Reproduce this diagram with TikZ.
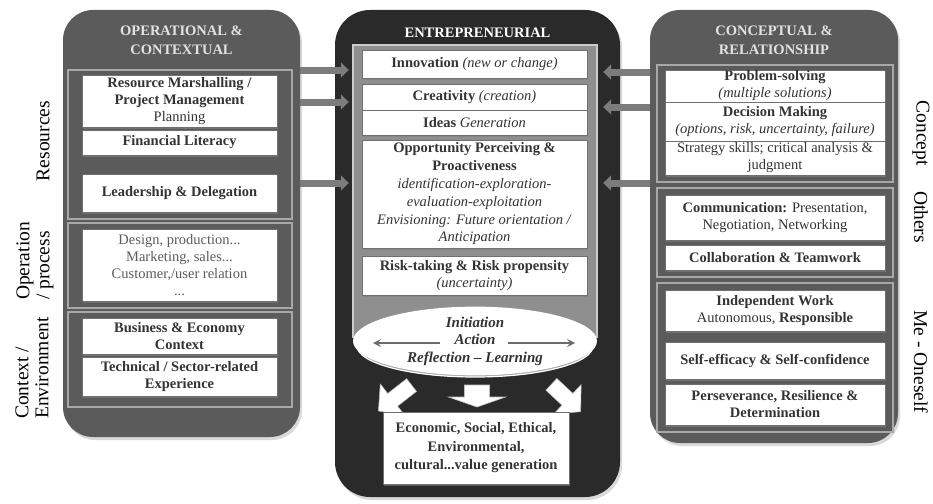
\documentclass[tikz,border=0pt]{standalone}
\usepackage{fontspec}
\setmainfont{Liberation Serif}
\usetikzlibrary{arrows.meta,shapes.geometric,shadows,positioning}
\definecolor{panelgray}{HTML}{5B5B5B}
\definecolor{darkpanel}{HTML}{2A2A2A}
\definecolor{framegray}{HTML}{A8A8A8}
\definecolor{innergray}{HTML}{8F8F8F}
\definecolor{textgray}{HTML}{333333}
\definecolor{boxline}{HTML}{707070}
\definecolor{linkgray}{HTML}{7C7C7C}
\definecolor{headgray}{HTML}{E2E2E2}
\tikzset{>=stealth,
  panel/.style={rounded corners=30pt, fill=panelgray, drop shadow={opacity=0.3,shadow xshift=2pt,shadow yshift=-3pt}},
  group/.style={draw=framegray, line width=1.6pt, fill=panelgray},
  item/.style={draw=boxline, fill=white, line width=0.8pt, align=center, inner sep=0.5pt, text=textgray,
    font=\fontsize{14.5}{17}\selectfont, drop shadow={opacity=0.6,shadow xshift=0.8pt,shadow yshift=-1.8pt}},
  head/.style={font=\bfseries\fontsize{14.5}{19}\selectfont, align=center, text=headgray},
  side/.style={font=\fontsize{19.5}{20}\selectfont, align=left},
  link/.style={draw=linkgray, line width=7pt, -{Triangle[length=8pt,width=15pt]}},
  blockarrow/.style={fill=white, draw=gray!50, line width=0.6pt}
}
\begin{document}
\begin{tikzpicture}[x=1pt,y=-1pt]
\useasboundingbox (0,0) rectangle (933,503);
\node[panel, minimum width=237, minimum height=427] (opc) at (181.5,223.5) {};
\node[panel, fill=darkpanel, rounded corners=35pt, minimum width=285, minimum height=487] (ent) at (477.5,253.5) {};
\node[panel, minimum width=248, minimum height=433] (cr) at (774,226.5) {};
\node[head] (opch) at (181.5,40) {OPERATIONAL \&\\CONTEXTUAL};
\node[head, text=white] (enth) at (477.5,33) {ENTREPRENEURIAL};
\node[head] (crh) at (774,40) {CONCEPTUAL \&\\RELATIONSHIP};
\draw[link, shorten >=-14pt] (opc.east |- 0,70) -- (ent.west |- 0,70);
\draw[link, shorten >=-14pt] (opc.east |- 0,102) -- (ent.west |- 0,102);
\draw[link, shorten >=-14pt] (opc.east |- 0,183) -- (ent.west |- 0,183);
\draw[link, shorten >=-17pt] (cr.west |- 0,72) -- (ent.east |- 0,72);
\draw[link, shorten >=-17pt] (cr.west |- 0,107) -- (ent.east |- 0,107);
\draw[link, shorten >=-17pt] (cr.west |- 0,183) -- (ent.east |- 0,183);
\node[group, minimum width=224, minimum height=149] (res) at (180,144.5) {};
\node[group, minimum width=224, minimum height=85] (opr) at (180,265.5) {};
\node[group, minimum width=224, minimum height=95] (ctx) at (180,359.5) {};
\node[item, minimum width=195, minimum height=52] (rm) at (179.5,101) {\textbf{Resource Marshalling /}\\\textbf{Project Management}\\Planning};
\node[item, minimum width=195, minimum height=25] (fl) at (179.5,142.5) {\textbf{Financial Literacy}};
\node[item, minimum width=195, minimum height=38] (ld) at (179.5,193) {\textbf{Leadership \& Delegation}};
\node[item, minimum width=195, minimum height=72, text=textgray!80] (dp) at (179.5,265) {Design, production...\\Marketing, sales...\\Customer,/user relation\\...};
\node[item, minimum width=195, minimum height=36] (be) at (179.5,336) {\textbf{Business \& Economy}\\\textbf{Context}};
\node[item, minimum width=195, minimum height=39] (ts) at (179.5,376.5) {\textbf{Technical / Sector-related}\\\textbf{Experience}};
\node[side, rotate=90] (lres) at (43,141) {Resources};
\node[side, rotate=90] (lopr) at (35,261) {Operation\\/ process};
\node[side, rotate=90] (lctx) at (32,368) {Context /\\Environment};
\node[draw=framegray!60!white, line width=1.6pt, fill=innergray, minimum width=244, minimum height=292] (frm) at (475,191) {};
\node[item, minimum width=225, minimum height=28] (inn) at (474.5,64) {\textbf{Innovation} \textit{(new or change)}};
\node[item, minimum width=225, minimum height=26] (cre) at (474.5,97) {\textbf{Creativity} \textit{(creation)}};
\node[item, minimum width=225, minimum height=25] (ide) at (474.5,122.5) {\textbf{Ideas} \textit{Generation}};
\node[item, minimum width=225, minimum height=108, font=\fontsize{14.5}{17.8}\selectfont] (opp) at (474.5,194) {\textbf{Opportunity Perceiving \&}\\\textbf{Proactiveness}\\\textit{identification-exploration-}\\\textit{evaluation-exploitation}\\\textit{Envisioning: Future orientation /}\\\textit{Anticipation}};
\node[item, minimum width=225, minimum height=39] (risk) at (474.5,275.5) {\textbf{Risk-taking \& Risk propensity}\\\textit{(uncertainty)}};
\node[ellipse, fill=gray!70, draw=white, line width=1.2pt, minimum width=236, minimum height=62] (rim) at (475,346) {};
\node[ellipse, fill=white, minimum width=244, minimum height=66, inner sep=0pt, text=textgray, align=center, font=\bfseries\itshape\fontsize{15}{17.5}\selectfont] (cyc) at (475,341) {Initiation\\Action\\Reflection -- Learning};
\draw[->, draw=gray!85!black, line width=2.4pt] ([xshift=-35pt,yshift=-2pt]cyc.center) -- ([xshift=-102pt,yshift=-2pt]cyc.center);
\draw[->, draw=gray!85!black, line width=2.4pt] ([xshift=33pt,yshift=-2pt]cyc.center) -- ([xshift=100pt,yshift=-2pt]cyc.center);
\draw[blockarrow, shift={(395,398)}, rotate=-142] (-21,-8) -- (3,-8) -- (3,-20) -- (21,0) -- (3,20) -- (3,8) -- (-21,8) -- cycle;
\draw[blockarrow, shift={(477,396)}, rotate=-90] (-11,-12.5) -- (1,-12.5) -- (1,-28.5) -- (11,0) -- (1,28.5) -- (1,12.5) -- (-11,12.5) -- cycle;
\draw[blockarrow, shift={(566,398)}, rotate=-43] (-20,-8) -- (2,-8) -- (2,-20) -- (20,0) -- (2,20) -- (2,8) -- (-20,8) -- cycle;
\node[item, minimum width=186, minimum height=72, font=\bfseries\fontsize{14.5}{18.5}\selectfont] (val) at (476,448) {Economic, Social, Ethical,\\Environmental,\\cultural...value generation};
\node[group, minimum width=236, minimum height=117] (cpt) at (775,123.5) {};
\node[group, minimum width=236, minimum height=89] (oth) at (775,232.5) {};
\node[group, minimum width=236, minimum height=149] (me) at (775,357.5) {};
\node[item, minimum width=220, minimum height=32] (ps) at (775,86) {\textbf{Problem-solving}\\\textit{(multiple solutions)}};
\node[item, minimum width=220, minimum height=39] (dm) at (775,121.5) {\textbf{Decision Making}\\\textit{(options, risk, uncertainty, failure)}};
\node[item, minimum width=220, minimum height=34] (ss) at (775,158) {Strategy skills; critical analysis \&\\judgment};
\node[item, minimum width=220, minimum height=45] (com) at (775,217.5) {\textbf{Communication:} Presentation,\\Negotiation, Networking};
\node[item, minimum width=220, minimum height=25] (col) at (775,257.5) {\textbf{Collaboration \& Teamwork}};
\node[item, minimum width=220, minimum height=41] (ind) at (775,310.5) {\textbf{Independent Work}\\Autonomous, \textbf{Responsible}};
\node[item, minimum width=220, minimum height=37] (se) at (775,360.5) {\textbf{Self-efficacy \& Self-confidence}};
\node[item, minimum width=220, minimum height=41] (per) at (775,404.5) {\textbf{Perseverance, Resilience \&}\\\textbf{Determination}};
\node[side, rotate=-90] (rcpt) at (921,133) {Concept};
\node[side, rotate=-90] (roth) at (921,217) {Others};
\node[side, rotate=-90] (rme) at (921,362) {Me - Oneself};
\end{tikzpicture}
\end{document}
